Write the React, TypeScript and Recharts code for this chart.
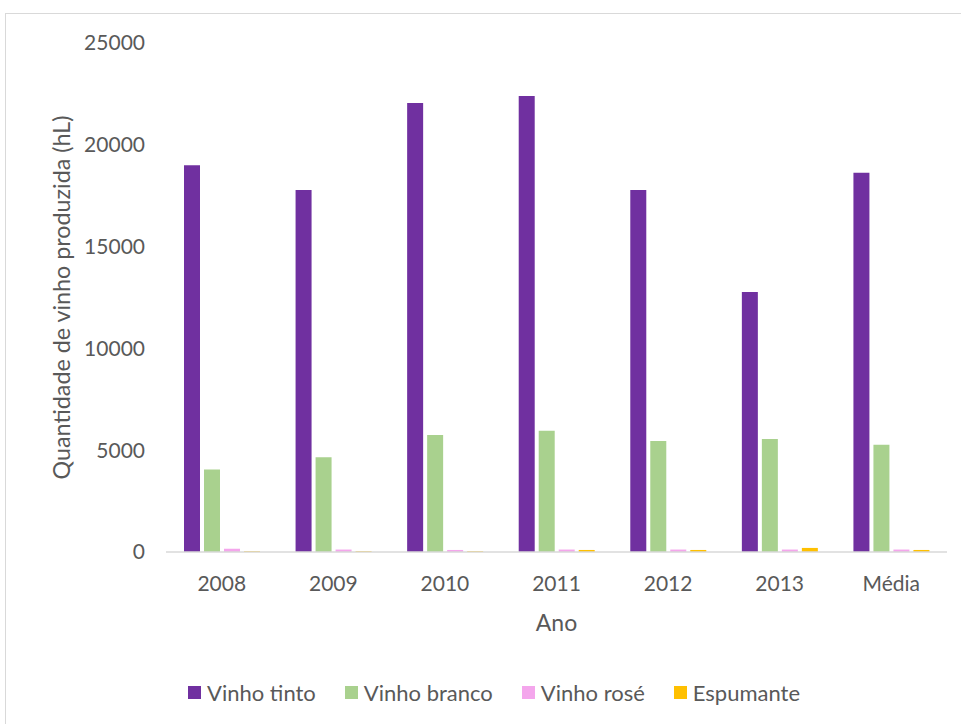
import React from 'react';
import { BarChart, Bar, XAxis, YAxis, Legend } from 'recharts';

const categories = ['2008', '2009', '2010', '2011', '2012', '2013', 'Média'];
const vinhoTinto = [19000, 17780, 22050, 22400, 17780, 12770, 18630];
const vinhoBranco = [4050, 4650, 5750, 5960, 5450, 5550, 5270];
const vinhoRose = [160, 120, 100, 120, 120, 120, 120];
const espumante = [40, 40, 40, 100, 100, 200, 100];
const yTicks = [0, 5000, 10000, 15000, 20000, 25000];

const seriesNames = ['Vinho tinto', 'Vinho branco', 'Vinho rosé', 'Espumante'];
const seriesColors = ['#7030A0', '#A9D18E', '#F4A6EC', '#FFC000'];

const data = categories.map((c, i) => ({
  ano: c,
  tinto: vinhoTinto[i],
  branco: vinhoBranco[i],
  rose: vinhoRose[i],
  espumante: espumante[i],
}));

const FONT = 'Lato, "Open Sans", sans-serif';
const TEXT = '#595959';

const LegendContent = (props: any) => {
  const payload = [...(props.payload || [])].sort(
    (a: any, b: any) => seriesNames.indexOf(a.value) - seriesNames.indexOf(b.value)
  );
  return (
    <div style={{ display: 'flex', alignItems: 'center', height: 40, paddingLeft: 188, fontFamily: FONT }}>
      {payload.map((p: any, i: number) => (
        <div key={i} style={{ display: 'flex', alignItems: 'center', marginRight: 29 }}>
          <span style={{ display: 'inline-block', width: 13, height: 13, background: p.color, marginRight: 6 }} />
          <span style={{ color: TEXT, fontSize: 22 }}>{p.value}</span>
        </div>
      ))}
    </div>
  );
};

export default function App() {
  return (
    <div style={{ position: 'absolute', left: 0, top: 0, width: 961, height: 724, background: '#fff', fontFamily: FONT }}>
      <div style={{ position: 'absolute', left: 5, top: 13, width: 970, height: 730, border: '1px solid #d9d9d9', boxSizing: 'border-box' }} />
      <BarChart
        width={961}
        height={724}
        data={data}
        margin={{ top: 43, right: 14, left: 0, bottom: 12 }}
        barSize={16}
        barGap={4}
        style={{ position: 'absolute', left: 0, top: 0 }}
      >
        <XAxis
          dataKey="ano"
          height={120}
          axisLine={{ stroke: '#d9d9d9', strokeWidth: 1.5 }}
          tickLine={false}
          tickSize={0}
          tickMargin={24}
          tick={{ fill: TEXT, fontSize: 21, fontFamily: FONT }}
          label={{ value: 'Ano', position: 'insideTop', offset: 63, fill: TEXT, fontSize: 23, fontFamily: FONT }}
        />
        <YAxis
          width={166}
          domain={[0, 25000]}
          ticks={yTicks}
          interval={0}
          axisLine={false}
          tickLine={false}
          tickSize={0}
          tickMargin={21}
          tick={{ fill: TEXT, fontSize: 21, fontFamily: FONT }}
          label={{
            value: 'Quantidade de vinho produzida (hL)',
            angle: -90,
            position: 'insideLeft',
            offset: 62,
            fill: TEXT,
            fontSize: 23.3,
            fontFamily: FONT,
            style: { textAnchor: 'middle' },
          }}
        />
        <Legend verticalAlign="bottom" content={<LegendContent />} />
        <Bar dataKey="tinto" name={seriesNames[0]} fill={seriesColors[0]} isAnimationActive={false} />
        <Bar dataKey="branco" name={seriesNames[1]} fill={seriesColors[1]} isAnimationActive={false} />
        <Bar dataKey="rose" name={seriesNames[2]} fill={seriesColors[2]} isAnimationActive={false} />
        <Bar dataKey="espumante" name={seriesNames[3]} fill={seriesColors[3]} isAnimationActive={false} />
      </BarChart>
    </div>
  );
}
